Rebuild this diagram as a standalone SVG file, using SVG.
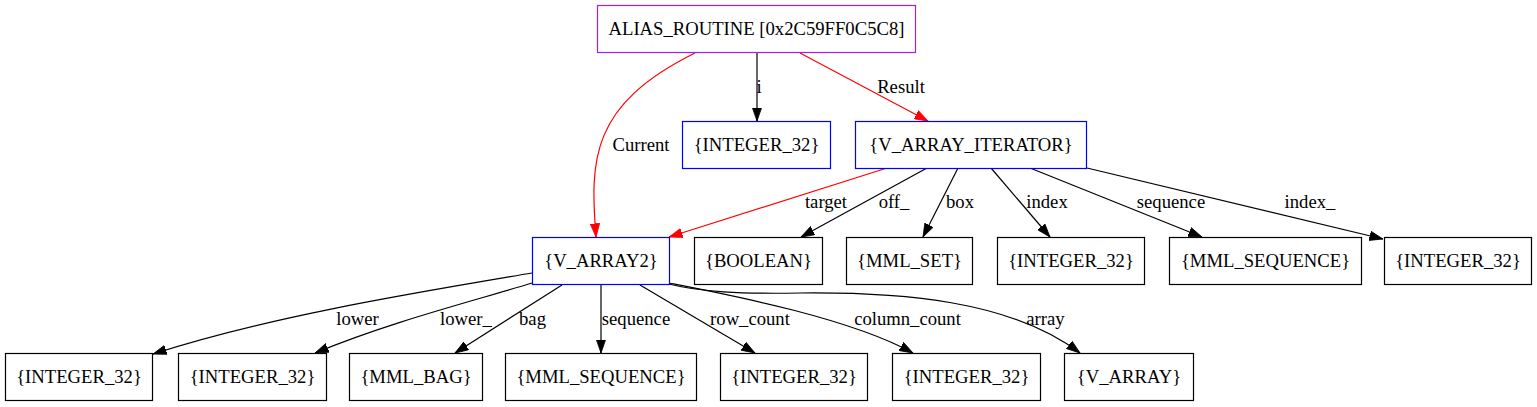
<svg xmlns="http://www.w3.org/2000/svg" width="1537" height="407" viewBox="0 0 1537 407">
<style>
  text { font-family: "Liberation Serif", "Times New Roman", serif; font-size: 18.67px; fill: #000; }
  .n text { text-anchor: middle; }
  .lbl { text-anchor: middle; }
  rect { fill: #fff; stroke-width: 1.2; }
  .blk { stroke: #000; }
  .blu { stroke: #0000ff; }
  .pur { stroke: #a020f0; }
  .e { fill: none; stroke: #000; stroke-width: 1.2; marker-end: url(#ab); }
  .r { fill: none; stroke: #ff0000; stroke-width: 1.2; marker-end: url(#ar); }
</style>
<defs>
  <marker id="ab" markerUnits="userSpaceOnUse" markerWidth="14" markerHeight="10" viewBox="0 0 14 10" refX="13.5" refY="5" orient="auto">
    <path d="M0,0.3 L13.5,5 L0,9.7 z" fill="#000" stroke="#000" stroke-width="0.8"/>
  </marker>
  <marker id="ar" markerUnits="userSpaceOnUse" markerWidth="14" markerHeight="10" viewBox="0 0 14 10" refX="13.5" refY="5" orient="auto">
    <path d="M0,0.3 L13.5,5 L0,9.7 z" fill="#ff0000" stroke="#ff0000" stroke-width="0.8"/>
  </marker>
</defs>
<rect x="0" y="0" width="1537" height="407" style="fill:#fff;stroke:none"/>

<g id="edges">
  <path class="r" d="M695,53 C590,105 590,160 596,237"/>
  <text class="lbl" x="641" y="150.5">Current</text>
  <path class="e" d="M757,53 L757,121"/>
  <text class="lbl" x="759" y="92.5">i</text>
  <path class="r" d="M800,53 L928,121"/>
  <text class="lbl" x="901" y="92.5">Result</text>

  <path class="r" d="M887,168 L669,237"/>
  <text class="lbl" x="826" y="207.5">target</text>
  <path class="e" d="M927,168 L801,237"/>
  <text class="lbl" x="894" y="207.5">off_</text>
  <path class="e" d="M958,168 L923,237"/>
  <text class="lbl" x="960" y="207.5">box</text>
  <path class="e" d="M991,168 L1050,237"/>
  <text class="lbl" x="1047" y="207.5">index</text>
  <path class="e" d="M1030,168 L1202,237"/>
  <text class="lbl" x="1171" y="207.5">sequence</text>
  <path class="e" d="M1087,168 L1383,239"/>
  <text class="lbl" x="1310" y="207.5">index_</text>

  <path class="e" d="M532,273 C420,292 270,316 153,354"/>
  <text class="lbl" x="357.5" y="324.5">lower</text>
  <path class="e" d="M532,283 C470,302 390,322 315,353"/>
  <text class="lbl" x="466" y="324.5">lower_</text>
  <path class="e" d="M562,285 L455,353"/>
  <text class="lbl" x="532.5" y="324.5">bag</text>
  <path class="e" d="M601,285 L601,353"/>
  <text class="lbl" x="636" y="324.5">sequence</text>
  <path class="e" d="M640,285 L755,353"/>
  <text class="lbl" x="750" y="324.5">row_count</text>
  <path class="e" d="M669,283 C730,295 850,318 913,353"/>
  <text class="lbl" x="907.5" y="324.5">column_count</text>
  <path class="e" d="M669,284 C700,292 740,294 800,293 C900,292 1010,300 1080,353"/>
  <text class="lbl" x="1045.5" y="324.5">array</text>
</g>

<g id="n_root" class="n"><rect class="pur" x="597.5" y="5.5" width="318" height="47"/><text x="756.5" y="34.5">ALIAS_ROUTINE [0x2C59FF0C5C8]</text></g>
<g id="n_i" class="n"><rect class="blu" x="682.5" y="121.5" width="148" height="47"/><text x="756.5" y="150.5">{INTEGER_32}</text></g>
<g id="n_iter" class="n"><rect class="blu" x="855.5" y="121.5" width="231" height="47"/><text x="971" y="150.5">{V_ARRAY_ITERATOR}</text></g>

<g id="n_va2" class="n"><rect class="blu" x="532.5" y="237.5" width="137" height="47"/><text x="601" y="266.5">{V_ARRAY2}</text></g>
<g id="n_bool" class="n"><rect class="blk" x="694.5" y="237.5" width="128" height="47"/><text x="758.5" y="266.5">{BOOLEAN}</text></g>
<g id="n_set" class="n"><rect class="blk" x="846.5" y="237.5" width="126" height="47"/><text x="909.5" y="266.5">{MML_SET}</text></g>
<g id="n_index" class="n"><rect class="blk" x="997.5" y="237.5" width="147" height="47"/><text x="1071" y="266.5">{INTEGER_32}</text></g>
<g id="n_seq1" class="n"><rect class="blk" x="1169.5" y="237.5" width="192" height="47"/><text x="1265.5" y="266.5">{MML_SEQUENCE}</text></g>
<g id="n_index_" class="n"><rect class="blk" x="1384.5" y="237.5" width="147" height="47"/><text x="1458" y="266.5">{INTEGER_32}</text></g>

<g id="n_lower" class="n"><rect class="blk" x="5.5" y="353.5" width="147" height="47"/><text x="79" y="382.5">{INTEGER_32}</text></g>
<g id="n_lower_" class="n"><rect class="blk" x="178.5" y="353.5" width="148" height="47"/><text x="252.5" y="382.5">{INTEGER_32}</text></g>
<g id="n_bag" class="n"><rect class="blk" x="349.5" y="353.5" width="133" height="47"/><text x="416" y="382.5">{MML_BAG}</text></g>
<g id="n_seq2" class="n"><rect class="blk" x="505.5" y="353.5" width="191" height="47"/><text x="601" y="382.5">{MML_SEQUENCE}</text></g>
<g id="n_row" class="n"><rect class="blk" x="720.5" y="353.5" width="147" height="47"/><text x="794" y="382.5">{INTEGER_32}</text></g>
<g id="n_col" class="n"><rect class="blk" x="892.5" y="353.5" width="148" height="47"/><text x="966.5" y="382.5">{INTEGER_32}</text></g>
<g id="n_array" class="n"><rect class="blk" x="1064.5" y="353.5" width="129" height="47"/><text x="1129" y="382.5">{V_ARRAY}</text></g>
</svg>
